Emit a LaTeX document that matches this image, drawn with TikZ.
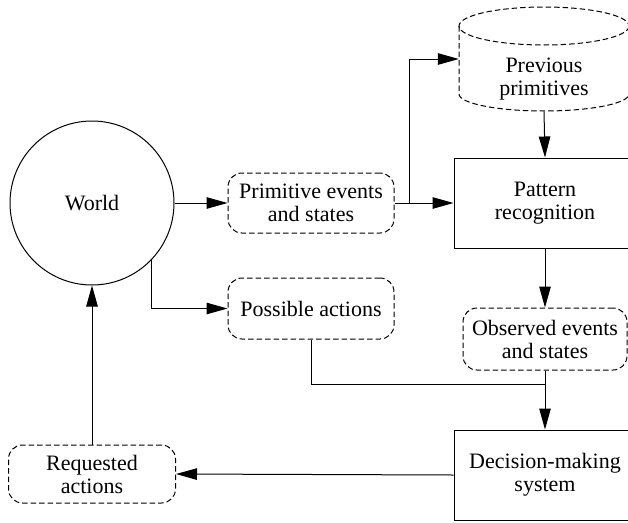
\documentclass[tikz,border=0pt]{standalone}
\usepackage{fontspec}
\setmainfont{Liberation Serif}
\usetikzlibrary{arrows.meta}
\begin{document}
\begin{tikzpicture}[x=1pt,y=-1pt,
  every node/.style={font=\fontsize{22}{23}\selectfont, align=center, inner sep=0pt},
  dbox/.style={draw, dashed, dash pattern=on 5.5pt off 3pt, rounded corners=14pt, line width=1pt},
  sbox/.style={draw, line width=1pt},
  conn/.style={line width=1pt},
  arr/.style={conn, -{Triangle[length=21pt,width=11.5pt]}}]
\clip (0,0) rectangle (628,522);
% nodes
\node[circle, draw, line width=1pt, minimum size=164pt] (world) at (92,203) {World};
\node[dbox, minimum width=166pt, minimum height=60pt] (prim) at (311,203) {Primitive events\\and states};
\node[dbox, minimum width=166pt, minimum height=61pt] (poss) at (311,308.5) {Possible actions};
\node[sbox, minimum width=182pt, minimum height=90pt] (pattern) at (545,203) {Pattern\\recognition};
\node[dbox, minimum width=164pt, minimum height=62pt] (obs) at (545,339) {Observed events\\and states};
\node[sbox, minimum width=182pt, minimum height=90pt] (dec) at (545,475) {Decision-making\\system};
\node[dbox, minimum width=167pt, minimum height=58pt] (req) at (92,474) {Requested\\actions};
% cylinder
\node[minimum width=170pt, minimum height=105pt] (prev) at (544,59) {};
\node (prevtxt) at (544,79) {Previous\\primitives};
\draw[dashed, dash pattern=on 5.5pt off 3pt, line width=1pt]
  (544,26) ellipse [x radius=85, y radius=19];
\draw[dashed, dash pattern=on 5.5pt off 3pt, line width=1pt]
  (459,26) -- (459,94) arc[start angle=180, end angle=0, x radius=85, y radius=17] -- (629,26);
% coordinates
\coordinate (br) at (409,203);
\coordinate (j) at (545,384);
% connectors
\draw[arr] (world.east) -- (prim.west);
\draw[arr] (world.-44) |- (poss.west);
\draw[arr] (prim.east) -- (pattern.west);
\draw[arr] (br) |- (prev.west);
\draw[arr] (prev.south) -- (pattern.north);
\draw[arr] (pattern.south) -- (obs.north);
\draw[arr] (obs.south) -- (dec.north);
\draw[conn] (poss.south) |- (j);
\draw[arr] (dec.west) -- (req.east);
\draw[arr] (req.north) -- (world.south);
\end{tikzpicture}
\end{document}
